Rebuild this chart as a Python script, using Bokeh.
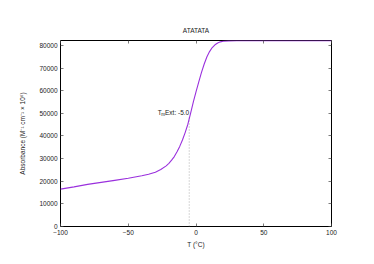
from bokeh.plotting import figure
from bokeh.models import Range1d, LinearAxis, FixedTicker, BasicTickFormatter
from bokeh.core.properties import value
from bokeh.embed import file_html
from bokeh.resources import INLINE

# data
temps = [-100, -90, -80, -70, -60, -50, -40, -35, -30, -26, -22, -20, -18, -16, -14, -12,
         -10, -8, -6, -4, -2, 0, 2, 4, 6, 8, 10, 12, 14, 16, 18, 20, 24, 30, 40, 60, 80, 100]
absorb = [16500, 17500, 18600, 19500, 20400, 21300, 22400, 23100, 24000, 25200, 26800, 27900,
          29300, 30900, 33000, 35400, 38200, 41500, 45200, 50000, 55000, 59500, 63800, 68000,
          71700, 74900, 77300, 79100, 80300, 81100, 81600, 81900, 82050, 82100, 82100, 82100,
          82100, 82100]
tm_value = [-5.0]
tm_abs = [49000]
x_ticks = [-100, -50, 0, 50, 100]
y_ticks = [0, 10000, 20000, 30000, 40000, 50000, 60000, 70000, 80000]
title_text = "ATATATA"
x_label = "T (°C)"
y_label = "Absorbance (M⁻¹ cm⁻¹ × 10⁶)"
tm_text = "Ext: -5.0"

FONT = "Liberation Sans"
FS = "6.5px"

p = figure(width=374, height=264, output_backend="svg", toolbar_location=None,
           x_range=Range1d(-100, 100), y_range=Range1d(0, 82200),
           min_border_left=60, min_border_right=43, min_border_top=40, min_border_bottom=38,
           title=title_text)
p.background_fill_color = "white"
p.border_fill_color = "white"
p.grid.visible = False
p.outline_line_color = "black"
p.outline_line_width = 1

p.title.align = "center"
p.title.text_font = FONT
p.title.text_font_size = FS
p.title.text_font_style = "normal"
p.title.text_color = "#222222"
p.title.standoff = 13

def style_axis(ax, ticks, labels=True):
    ax.ticker = FixedTicker(ticks=ticks)
    ax.major_tick_in = 3
    ax.major_tick_out = 0
    ax.minor_tick_line_color = None
    ax.axis_line_color = None
    ax.major_tick_line_color = "#444444"
    ax.major_tick_line_width = 0.7
    ax.major_label_text_font = FONT
    ax.major_label_text_font_size = FS
    ax.major_label_text_color = "#222222" if labels else None
    ax.axis_label_text_font = FONT
    ax.axis_label_text_font_size = FS
    ax.axis_label_text_font_style = "normal"
    ax.axis_label_text_color = "#222222"
    if not labels:
        ax.major_label_standoff = 0

style_axis(p.xaxis[0], x_ticks)
style_axis(p.yaxis[0], y_ticks)
p.yaxis[0].formatter = BasicTickFormatter(use_scientific=False)
p.xaxis[0].axis_label = x_label
p.yaxis[0].axis_label = y_label
p.xaxis[0].major_label_standoff = 3
p.xaxis[0].axis_label_standoff = 3
p.yaxis[0].major_label_standoff = 3
p.yaxis[0].axis_label_standoff = 10

top_ax = LinearAxis()
style_axis(top_ax, x_ticks, labels=False)
p.add_layout(top_ax, "above")
right_ax = LinearAxis()
style_axis(right_ax, y_ticks, labels=False)
p.add_layout(right_ax, "right")

# Tm marker
p.segment(x0=tm_value, y0=[0], x1=tm_value, y1=tm_abs, line_color="#999999",
          line_width=0.8, line_dash="1 2")

# curve
p.line(temps, absorb, line_color="#9a30dd", line_width=1.1)

# Tm label: "T" + subscript "m" + "Ext: -5.0"
p.text(x=tm_value, y=tm_abs, text=[tm_text], text_align="right", text_baseline="middle",
       text_font=value(FONT), text_font_size=FS, text_color="#222222", y_offset=-3)
p.text(x=tm_value, y=tm_abs, text=["m"], text_align="right", text_baseline="middle",
       text_font=value(FONT), text_font_size="4.5px", text_color="#222222",
       x_offset=-24.3, y_offset=-1)
p.text(x=tm_value, y=tm_abs, text=["T"], text_align="right", text_baseline="middle",
       text_font=value(FONT), text_font_size=FS, text_color="#222222",
       x_offset=-27.6, y_offset=-3)

open("out.html", "w").write(file_html(p, INLINE))
